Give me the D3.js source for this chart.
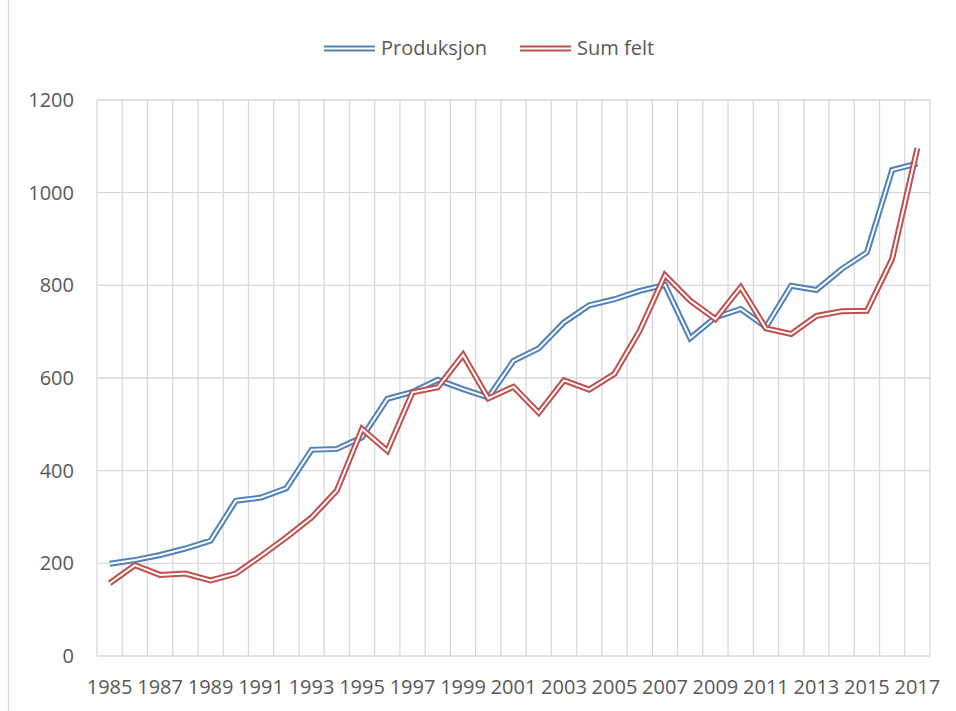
<!DOCTYPE html>
<html>
<head>
<meta charset="utf-8">
<script src="https://cdn.jsdelivr.net/npm/d3@7"></script>
<style>
  html, body { margin: 0; padding: 0; background: #fff; }
  svg { display: block; }
  text { font-family: "Open Sans", "Noto Sans", sans-serif; fill: #595959; }
</style>
</head>
<body>
<div class="js-container"></div>
<script>
// Year categories along the x axis
var years = d3.range(1985, 2018).map(String);

// Series values
var produksjon = [199, 207, 218, 232, 249, 335, 342, 362, 445, 447, 472, 555, 570, 596, 576, 558, 637, 664, 720, 757, 770, 788, 801, 686, 731, 749, 710, 799, 790, 835, 871, 1049, 1063];
var sumFelt = [157, 196, 175, 178, 163, 178, 216, 256, 299, 357, 490, 443, 569, 580, 650, 556, 581, 525, 595, 575, 609, 702, 822, 767, 727, 796, 707, 695, 734, 744, 745, 857, 1096];

var seriesNames = ['Produksjon', 'Sum felt'];
var seriesColors = ['#4f81bd', '#c0504d'];
var yTicks = [0, 200, 400, 600, 800, 1000, 1200];

var W = 956, H = 711;
var plot = { left: 97, right: 930, top: 100, bottom: 656 };

var svg = d3.select('.js-container').append('svg')
    .attr('width', W)
    .attr('height', H);

// chart area border (only left edge is visible in the crop)
svg.append('line')
    .attr('x1', 8.5).attr('x2', 8.5)
    .attr('y1', 0).attr('y2', H)
    .attr('stroke', '#d9d9d9')
    .attr('stroke-width', 1.3);

var x = d3.scaleBand()
    .domain(years)
    .range([plot.left, plot.right])
    .paddingInner(0)
    .paddingOuter(0);

var y = d3.scaleLinear()
    .domain([0, 1200])
    .range([plot.bottom, plot.top]);

var grid = svg.append('g').attr('stroke', '#d9d9d9').attr('stroke-width', 1.3);

// horizontal gridlines
grid.selectAll('.hg')
    .data(yTicks)
    .enter().append('line')
    .attr('x1', plot.left).attr('x2', plot.right)
    .attr('y1', function(d) { return y(d); })
    .attr('y2', function(d) { return y(d); });

// vertical gridlines between categories
var bounds = years.map(function(d) { return x(d); }).concat([plot.right]);
grid.selectAll('.vg')
    .data(bounds)
    .enter().append('line')
    .attr('x1', function(d) { return d; })
    .attr('x2', function(d) { return d; })
    .attr('y1', plot.top).attr('y2', plot.bottom);

// y axis labels
svg.append('g').selectAll('text')
    .data(yTicks)
    .enter().append('text')
    .attr('x', 74)
    .attr('y', function(d) { return y(d); })
    .attr('dy', '0.35em')
    .attr('text-anchor', 'end')
    .style('font-size', '20px')
    .text(function(d) { return d; });

// x axis labels, every other year
svg.append('g').selectAll('text')
    .data(years.filter(function(d, i) { return i % 2 === 0; }))
    .enter().append('text')
    .attr('x', function(d) { return x(d) + x.bandwidth() / 2; })
    .attr('y', 694)
    .attr('text-anchor', 'middle')
    .style('font-size', '20px')
    .text(function(d) { return d; });

var line = d3.line()
    .x(function(d, i) { return x(years[i]) + x.bandwidth() / 2; })
    .y(function(d) { return y(d); });

// double line look: thick coloured stroke with a thin white stroke on top
function drawDouble(g, path, color) {
  g.append('path')
      .attr('d', path)
      .attr('fill', 'none')
      .attr('stroke', color)
      .attr('stroke-width', 6)
      .attr('stroke-linejoin', 'miter');
  g.append('path')
      .attr('d', path)
      .attr('fill', 'none')
      .attr('stroke', '#fff')
      .attr('stroke-width', 2)
      .attr('stroke-linejoin', 'miter');
}

var lines = svg.append('g');
[produksjon, sumFelt].forEach(function(vals, i) {
  drawDouble(lines, line(vals), seriesColors[i]);
});

// legend
var legendItems = [
  { name: seriesNames[0], color: seriesColors[0], x: 324 },
  { name: seriesNames[1], color: seriesColors[1], x: 520 }
];
var legend = svg.append('g');
legendItems.forEach(function(item) {
  drawDouble(legend, 'M' + item.x + ',48.5H' + (item.x + 51), item.color);
  legend.append('text')
      .attr('x', item.x + 57)
      .attr('y', 48)
      .attr('dy', '0.35em')
      .style('font-size', '20px')
      .text(item.name);
});
</script>
</body>
</html>
